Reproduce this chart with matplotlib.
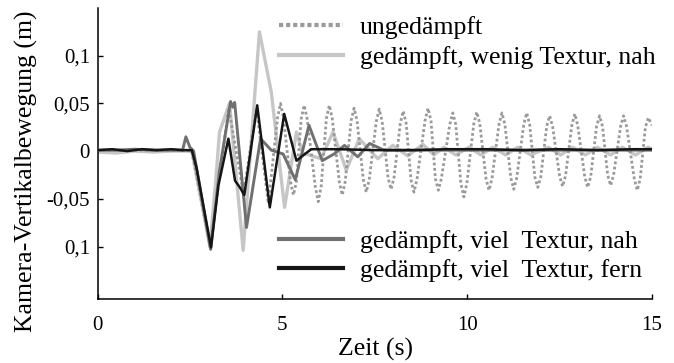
#%%
# Import
import matplotlib
matplotlib.use('Agg')
import matplotlib.pyplot as plt
from matplotlib.lines import Line2D

plt.rcParams['font.family'] = ['Liberation Serif', 'DejaVu Serif']


#%%
# Data

# ungedaempft (dotted)
t_undamped = [0, 1, 2, 2.3, 2.55, 3.05, 3.55, 3.95, 4.3, 4.62,
              4.87, 4.95, 5.03, 5.22, 5.30, 5.38, 5.51, 5.59, 5.67, 5.89, 5.97, 6.05,
              6.19, 6.27, 6.35, 6.54, 6.62, 6.70, 6.86, 6.94, 7.02, 7.19, 7.27, 7.35,
              7.54, 7.62, 7.70, 7.86, 7.94, 8.02, 8.19, 8.27, 8.35, 8.48, 8.56, 8.64,
              8.86, 8.94, 9.02, 9.14, 9.22, 9.30, 9.53, 9.61, 9.69, 9.83, 9.91, 9.99,
              10.18, 10.26, 10.34, 10.51, 10.59, 10.67, 10.86, 10.94, 11.02,
              11.18, 11.26, 11.34, 11.53, 11.61, 11.69, 11.83, 11.91, 11.99,
              12.15, 12.23, 12.31, 12.50, 12.58, 12.66, 12.83, 12.91, 12.99,
              13.18, 13.26, 13.34, 13.50, 13.58, 13.66, 13.80, 13.88, 13.96,
              14.15, 14.23, 14.31, 14.52, 14.60, 14.68, 14.82, 14.90, 15.0]
y_undamped = [0.001, 0.001, 0.001, 0.001, 0.0, -0.100, 0.045, -0.045, 0.045, -0.055,
              0.035, 0.050, 0.035, -0.032, -0.046, -0.032, 0.034, 0.048, 0.034,
              -0.037, -0.053, -0.037, 0.034, 0.048, 0.034, -0.032, -0.046, -0.032,
              0.032, 0.045, 0.032, -0.030, -0.043, -0.030, 0.031, 0.044, 0.031,
              -0.028, -0.040, -0.028, 0.029, 0.042, 0.029, -0.030, -0.043, -0.030,
              0.032, 0.045, 0.032, -0.029, -0.041, -0.029, 0.028, 0.040, 0.028,
              -0.034, -0.048, -0.034, 0.029, 0.041, 0.029, -0.029, -0.041, -0.029,
              0.028, 0.040, 0.028, -0.028, -0.040, -0.028, 0.028, 0.040, 0.028,
              -0.027, -0.038, -0.027, 0.026, 0.037, 0.026, -0.026, -0.037, -0.026,
              0.027, 0.039, 0.027, -0.027, -0.038, -0.027, 0.026, 0.037, 0.026,
              -0.025, -0.036, -0.025, 0.026, 0.037, 0.026, -0.029, -0.041, -0.029,
              0.025, 0.035, 0.027]

# gedaempft, wenig Textur, nah (light grey)
t_light = [0, 0.5, 1.0, 1.5, 2.0, 2.3, 2.55, 3.04, 3.2, 3.3, 3.57, 3.94, 4.38, 4.70,
           5.06, 5.38, 5.55, 6.05, 6.37, 6.73, 7.08, 7.58, 7.99, 8.39, 8.80, 9.10,
           9.37, 9.69, 10.05, 10.37, 10.69, 11.04, 11.37, 11.72, 12.20, 12.53, 12.85,
           13.20, 13.52, 13.88, 14.20, 14.55, 14.90, 15.0]
y_light = [-0.001, -0.002, 0.0, -0.001, 0.0, 0.0, 0.0, -0.100, -0.030, 0.020, 0.050,
           -0.104, 0.125, 0.062, -0.059, 0.020, -0.002, -0.008, 0.020, -0.020, 0.013,
           -0.008, 0.006, -0.005, 0.007, -0.004, 0.004, -0.004, 0.004, -0.004, 0.004,
           -0.004, 0.004, -0.004, 0.004, -0.004, 0.004, -0.004, 0.004, -0.004, 0.004,
           -0.004, 0.004, 0.002]

# gedaempft, viel Textur, nah (dark grey)
t_dark = [0, 0.5, 1.0, 1.5, 2.0, 2.3, 2.39, 2.5, 2.6, 3.06, 3.3, 3.6, 3.66, 3.71, 4.03,
          4.41, 4.70, 5.02, 5.35, 5.72, 6.08, 6.40, 6.68, 7.04, 7.36, 7.75, 8.5, 10.0,
          12.0, 15.0]
y_dark = [0.001, 0.001, 0.002, 0.001, 0.001, 0.001, 0.015, 0.004, 0.0, -0.103, -0.020,
          0.052, 0.046, 0.051, -0.080, 0.013, 0.001, -0.003, -0.030, 0.027, -0.010,
          -0.003, 0.006, -0.006, 0.008, 0.001, 0.001, 0.001, 0.001, 0.001]

# gedaempft, viel Textur, fern (black)
t_black = [0, 0.4, 0.8, 1.2, 1.6, 2.0, 2.3, 2.55, 2.68, 3.07, 3.27, 3.54, 3.72, 3.85,
           3.97, 4.32, 4.66, 5.05, 5.38, 5.78, 6.5, 7.5, 8.5, 9.5, 10.5, 11.5, 12.5,
           13.5, 14.5, 15.0]
y_black = [0.001, 0.002, 0.0, 0.002, 0.001, 0.002, 0.001, 0.001, -0.018, -0.101,
           -0.036, 0.013, -0.031, -0.038, -0.046, 0.048, -0.059, 0.039, -0.010, 0.002,
           0.002, 0.001, 0.001, 0.002, 0.002, 0.001, 0.002, 0.001, 0.002, 0.002]

labels = ['ungedämpft',
          'gedämpft, wenig Textur, nah',
          'gedämpft, viel  Textur, nah',
          'gedämpft, viel  Textur, fern']

x_ticks = [0, 5, 10, 15]
x_ticklabels = ['0', '5', '10', '15']
y_ticks = [-0.1, -0.05, 0, 0.05, 0.1]
y_ticklabels = ['0,1', '-0,05', '0', '0,05', '0,1']


#%%
# Plot

c_dot = '#9a9a9a'
c_light = '#c6c6c6'
c_dark = '#707070'
c_black = '#151515'

fig = plt.figure(figsize=(6.74, 3.63), dpi=100)
ax = fig.add_axes([0.1447, 0.1763, 0.8227, 0.8017])

ax.plot(t_light, y_light, color=c_light, lw=2.4, zorder=2)
ax.plot(t_undamped, y_undamped, color=c_dot, lw=2.0, ls=(0, (1, 0.9)), zorder=3)
ax.plot(t_dark, y_dark, color=c_dark, lw=2.1, zorder=4)
ax.plot(t_black, y_black, color=c_black, lw=1.8, zorder=5)

ax.set_xlim(0, 15)
ax.set_ylim(-0.155, 0.15)

for s in ['top', 'right']:
    ax.spines[s].set_visible(False)
for s in ['left', 'bottom']:
    ax.spines[s].set_linewidth(1.1)

ax.set_xticks(x_ticks)
ax.set_xticklabels(x_ticklabels)
ax.set_yticks(y_ticks)
ax.set_yticklabels(y_ticklabels)
ax.tick_params(axis='both', direction='in', length=3.5, width=1.0, labelsize=15)
ax.tick_params(axis='x', pad=12)
ax.tick_params(axis='y', pad=5.5)

ax.set_xlabel('Zeit (s)', fontsize=18.5)
ax.set_ylabel('Kamera-Vertikalbewegung (m)', fontsize=18.5)
ax.xaxis.set_label_coords(0.502, -0.135)
ax.yaxis.set_label_coords(-0.107, 0.44)

# legends
h_dot = Line2D([], [], color=c_dot, lw=3, ls=(0, (1, 0.7)))
h_light = Line2D([], [], color=c_light, lw=3)
h_dark = Line2D([], [], color=c_dark, lw=3)
h_black = Line2D([], [], color=c_black, lw=3)

leg_kw = dict(frameon=False, fontsize=18.5, borderpad=0, borderaxespad=0,
              handlelength=2.5, handletextpad=0.66, loc='upper left')

leg1 = ax.legend([h_dot, h_light], labels[:2], bbox_to_anchor=(0.327, 0.972),
                 labelspacing=0.28, **leg_kw)
ax.add_artist(leg1)
ax.legend([h_dark, h_black], labels[2:], bbox_to_anchor=(0.327, 0.237),
          labelspacing=0.25, **leg_kw)

fig.savefig('out.png', dpi=100)
